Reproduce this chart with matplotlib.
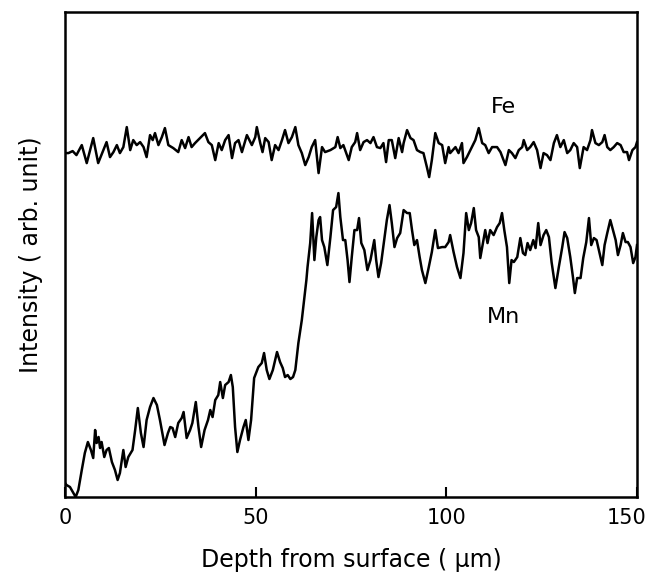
import matplotlib
matplotlib.use("Agg")
import matplotlib.pyplot as plt
import matplotlib.transforms as mtransforms

# Depth (um) and intensity (arb. unit)
fe_depth = [0.0, 0.9, 2.0, 3.0, 4.4, 5.7, 7.4, 8.7, 10.9, 11.8, 12.7, 13.6, 14.4, 15.3, 16.2, 17.1,
            17.9, 18.8, 19.7, 20.6, 21.4, 22.3, 23.0, 23.6, 24.5, 25.4, 26.2, 27.1, 28.4, 29.7, 30.6,
            31.5, 32.4, 33.2, 34.1, 35.4, 36.7, 37.6, 38.5, 39.4, 40.3, 41.1, 42.0, 42.9, 43.8, 44.6,
            45.5, 46.4, 47.7, 49.0, 49.9, 50.3, 51.2, 51.8, 52.5, 53.4, 54.2, 55.1, 56.0, 56.9, 57.7,
            58.6, 59.5, 60.4, 61.2, 62.1, 63.0, 63.9, 64.7, 65.6, 66.5, 67.4, 68.2, 69.6, 70.9, 71.5,
            72.2, 73.0, 74.4, 75.2, 76.1, 76.6, 77.4, 78.3, 79.2, 80.1, 80.9, 81.8, 82.7, 83.5, 84.2,
            84.9, 85.7, 86.6, 87.5, 88.4, 88.8, 89.7, 90.6, 91.4, 92.3, 93.2, 94.0, 94.9, 95.5, 96.2,
            97.1, 98.0, 98.9, 99.7, 100.6, 101.0, 102.4, 103.2, 104.1, 104.5, 105.4, 106.7, 107.6,
            108.5, 109.4, 110.2, 111.1, 112.0, 113.3, 114.2, 115.5, 116.4, 117.2, 118.1, 119.0, 119.9,
            120.3, 121.2, 122.0, 122.9, 123.8, 124.7, 125.5, 126.4, 127.3, 128.2, 129.0, 129.9, 130.8,
            131.7, 132.5, 133.4, 134.3, 135.0, 136.0, 136.9, 137.8, 138.2, 139.1, 140.0, 140.9, 141.5,
            142.2, 143.0, 143.9, 144.8, 145.7, 146.5, 147.4, 147.9, 148.8, 149.6, 150.0]
fe_intensity = [344, 344, 346, 342, 352, 334, 359, 334, 355, 340, 345, 352, 344, 350, 370, 347,
                357, 352, 355, 350, 340, 362, 357, 364, 352, 360, 369, 352, 349, 345, 357,
                349, 360, 350, 354, 359, 364, 355, 352, 337, 354, 347, 357, 362, 339, 354,
                357, 345, 362, 352, 360, 370, 354, 345, 359, 355, 337, 352, 347, 357, 367,
                354, 360, 370, 352, 344, 332, 340, 350, 357, 324, 350, 345, 347, 350, 360,
                349, 352, 337, 350, 355, 364, 347, 355, 357, 354, 360, 350, 349, 354, 335,
                357, 357, 339, 359, 345, 354, 367, 359, 357, 347, 345, 344, 330, 320, 337,
                364, 354, 352, 334, 350, 344, 350, 344, 354, 334, 340, 350, 357,
                369, 354, 352, 344, 350, 350, 345, 332, 347, 344, 339, 347, 350,
                357, 347, 350, 355, 347, 329, 344, 342, 337, 354, 362, 350, 357,
                344, 347, 354, 350, 329, 350, 347, 357, 367, 354, 352, 355, 362,
                350, 347, 350, 354, 352, 345, 345, 337, 347, 350, 355]

mn_depth = [0.0, 0.4, 1.3, 2.2, 2.8, 3.5, 4.4, 5.2, 6.0, 6.8, 7.4, 7.9, 8.3, 8.8, 9.2, 9.6, 10.3,
            10.9, 11.5, 12.3, 13.1, 13.8, 14.4, 15.3, 15.9, 16.6, 17.7, 18.4, 19.1, 19.9, 20.6, 21.4,
            22.3, 23.2, 24.1, 24.9, 26.1, 27.0, 27.6, 28.2, 28.9, 29.7, 30.6, 31.1, 31.9, 32.8, 33.4,
            34.3, 35.0, 35.7, 36.6, 37.5, 38.1, 38.7, 39.4, 40.2, 40.7, 41.4, 42.0, 42.9, 43.5, 44.0,
            44.6, 45.2, 45.9, 46.8, 47.4, 48.1, 48.8, 49.6, 50.7, 51.6, 52.2, 52.9, 53.6, 54.5, 55.6,
            56.4, 57.1, 57.7, 58.4, 59.1, 59.8, 60.4, 61.2, 62.1, 62.7, 63.3, 63.6, 64.3, 64.8, 65.4,
            65.9, 66.5, 66.9, 67.4, 68.0, 68.8, 69.6, 70.3, 71.1, 71.7, 72.2, 72.9, 73.5, 74.1, 74.6,
            75.2, 75.9, 76.6, 77.1, 77.7, 78.5, 79.3, 80.1, 81.1, 81.6, 82.2, 82.9, 83.8, 84.4, 85.1,
            85.7, 86.4, 87.1, 87.9, 88.8, 89.7, 90.4, 91.0, 91.6, 92.3, 93.0, 93.6, 94.5, 95.4, 96.2,
            97.1, 97.8, 98.9, 99.7, 100.6, 101.0, 101.9, 102.8, 103.7, 104.5, 105.2, 105.9, 106.5,
            107.2, 107.8, 108.5, 108.9, 109.6, 110.2, 110.8, 111.5, 112.4, 113.3, 114.0, 114.6, 115.2,
            115.9, 116.5, 117.1, 117.7, 118.6, 119.4, 120.1, 120.7, 121.3, 122.0, 122.8, 123.4, 124.1,
            124.7, 125.5, 126.2, 126.9, 127.6, 128.6, 129.5, 130.4, 131.0, 131.7, 132.5, 133.2, 133.7,
            134.3, 135.2, 135.9, 136.7, 137.4, 138.0, 138.7, 139.4, 140.0, 140.9, 141.5, 142.2, 143.0,
            143.7, 144.4, 145.0, 145.7, 146.3, 147.0, 147.6, 148.3, 149.0, 149.6, 150.0]
mn_intensity = [14, 12, 10, 4, 0, 7, 27, 44, 55, 47, 39, 67, 54, 60, 49, 55, 40,
                47, 49, 35, 27, 17, 24, 47, 30, 40, 47, 67, 89, 64, 50, 77,
                90, 99, 92, 77, 52, 64, 70, 69, 60, 74, 79, 85, 59, 67, 74,
                95, 70, 50, 67, 77, 87, 80, 97, 102, 115, 99, 112, 115, 122, 110,
                70, 45, 57, 70, 77, 57, 77, 119, 130, 134, 144, 127, 118, 127, 145,
                135, 129, 120, 122, 118, 120, 127, 154, 177, 197, 217, 230, 254, 284, 237,
                260, 277, 280, 257, 250, 232, 260, 287, 290, 304, 280, 257, 257, 237, 215,
                240, 267, 267, 279, 254, 247, 227, 237, 257, 237, 220, 234, 260, 277, 292,
                274, 250, 259, 264, 287, 284, 284, 267, 252, 257, 240, 227, 214, 230, 245,
                267, 249, 250, 250, 255, 262, 245, 230, 219, 244, 284, 267, 274,
                289, 267, 260, 239, 254, 267, 254, 267, 262, 270, 274, 284, 267,
                250, 214, 237, 235, 240, 259, 244, 242, 254, 247, 257, 249, 274,
                252, 262, 267, 260, 235, 209, 230, 250, 265, 259, 240, 220, 204,
                219, 219, 239, 255, 279, 252, 259, 257, 247, 232, 252, 264, 277,
                267, 257, 242, 252, 264, 255, 255, 250, 234, 240, 252]

x_ticks = [0, 50, 100, 150]
x_ticklabels = ["0", "50", "100", "150"]
series_labels = ["Fe", "Mn"]

plt.rcParams['font.family'] = ['DejaVu Sans']

fig = plt.figure(figsize=(6.5, 5.8), dpi=100)
ax = fig.add_axes([0.1, 0.1431, 0.88, 0.836])

ax.plot(fe_depth, fe_intensity, color='black', lw=1.8, solid_joinstyle='round')
ax.plot(mn_depth, mn_intensity, color='black', lw=1.8, solid_joinstyle='round')

ax.set_xlim(0, 150)
ax.set_ylim(0, 485)
ax.set_xticks(x_ticks)
ax.set_xticklabels(x_ticklabels)
ax.set_yticks([])
ax.tick_params(axis='x', direction='in', length=7, width=1.5, labelsize=15, pad=8)
for s in ax.spines.values():
    s.set_linewidth(1.8)

# nudge the last tick label left so it stays inside the figure
last = ax.get_xticklabels()[-1]
last.set_transform(last.get_transform() +
                   mtransforms.ScaledTranslation(-10 / 100, 0, fig.dpi_scale_trans))

ax.text(115, 390, series_labels[0], fontsize=16, ha='center', va='center')
ax.text(115, 180, series_labels[1], fontsize=16, ha='center', va='center')

ax.set_xlabel("Depth from surface ( \u00b5m)", fontsize=17, labelpad=14)
ax.set_ylabel("Intensity ( arb. unit)", fontsize=17, labelpad=16)

fig.savefig("out.png", dpi=100)
